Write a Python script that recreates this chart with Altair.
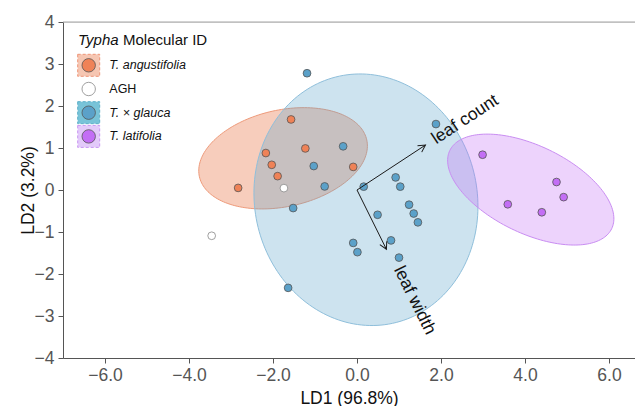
import altair as alt
import pandas as pd
import numpy as np

FONT = "Liberation Sans"

# ---------------- data ----------------
groups = ["T. angustifolia", "AGH", "T. × glauca", "T. latifolia"]
point_fill = ["#EF8257", "#FFFFFF", "#5BA1C9", "#C36EF5"]
point_stroke = ["#555555", "#888888", "#555555", "#555555"]

ang_x = [-2.83, -1.57, -2.17, -2.03, -1.89, -1.23, -0.09]
ang_y = [0.05, 1.68, 0.88, 0.60, 0.33, 0.99, 0.55]

agh_x = [-1.74, -3.46]
agh_y = [0.045, -1.09]

gla_x = [-1.19, -0.33, -1.03, -0.77, -1.52, 0.16, 0.92, 1.03, 0.49,
         1.24, 1.35, 1.45, 0.81, -0.09, 0.01, 1.00, -1.64, 1.88]
gla_y = [2.78, 1.04, 0.57, 0.085, -0.43, 0.08, 0.30, 0.08, -0.59,
         -0.35, -0.56, -0.77, -1.20, -1.26, -1.48, -1.61, -2.33, 1.57]

lat_x = [2.99, 4.75, 4.92, 3.59, 4.40]
lat_y = [0.84, 0.19, -0.17, -0.34, -0.53]

# ellipse parameters (centre, semi-axes, rotation in degrees)
ell_groups = ["T. angustifolia", "T. × glauca", "T. latifolia"]
ell_cx = [-1.76, 0.213, 4.137]
ell_cy = [0.755, -0.232, 0.01]
ell_a = [2.04, 3.01, 2.14]
ell_b = [1.15, 2.65, 1.04]
ell_rot = [12.4, 102.1, -25.8]
ell_fill = ["#E8703F", "#5BA1C9", "#C36EF5"]
ell_fill_opacity = [0.35, 0.3, 0.3]
ell_stroke = ["#EE9A7A", "#8FBFDB", "#C98DF2"]

# biplot arrows
arrow_names = ["leaf count", "leaf width"]
arrow_x = [1.63, 0.70]
arrow_y = [1.07, -1.41]
arrow_label_x = [1.82, 0.98]
arrow_label_y = [1.18, -1.84]

# legend
legend_patch_fill = ["#F6C6B2", None, "#78C3D8", "#E3CAFA"]
legend_patch_stroke = ["#EE9477", None, "#5AAFC8", "#C896F2"]

x_ticks = [-6, -4, -2, 0, 2, 4, 6]
y_ticks = [-4, -3, -2, -1, 0, 1, 2, 3, 4]

# ---------------- chart ----------------
W, H = 572, 336
PX_PER_UNIT = H / 8.0
xs = alt.Scale(domain=[-7, -7 + W / PX_PER_UNIT], nice=False, zero=False)
ys = alt.Scale(domain=[-4, 4], nice=False, zero=False)

xaxis = alt.Axis(values=x_ticks, format=".1f", grid=False, labelFontSize=17.5,
                 labelColor="#555555", tickColor="#555555", domainColor="#555555",
                 tickSize=5, labelPadding=3, titleFontSize=17.5, titleFontWeight="normal",
                 titleColor="#111111", titleY=40, titleBaseline="middle",
                 labelFont=FONT, titleFont=FONT)
yaxis = alt.Axis(values=y_ticks, format="d", grid=False, labelFontSize=17.5,
                 labelColor="#555555", tickColor="#555555", domainColor="#555555",
                 tickSize=5, labelPadding=4, titleFontSize=17.5, titleFontWeight="normal",
                 titleColor="#111111", titleX=-35, titleY=H / 2, titleAngle=270,
                 titleBaseline="middle", titleAlign="center",
                 labelFont=FONT, titleFont=FONT)

XT = "LD1 (96.8%)"
YT = "LD2 (3.2%)"


def X(f):
    return alt.X(f, type="quantitative", scale=xs, axis=xaxis, title=XT)


def Y(f):
    return alt.Y(f, type="quantitative", scale=ys, axis=yaxis, title=YT)


layers = []

# ellipses
t = np.linspace(0, 2 * np.pi, 181)
for g, cx, cy, a, b, r, fc, fo, sc in zip(ell_groups, ell_cx, ell_cy, ell_a, ell_b,
                                          ell_rot, ell_fill, ell_fill_opacity, ell_stroke):
    th = np.deg2rad(r)
    ex = cx + a * np.cos(t) * np.cos(th) - b * np.sin(t) * np.sin(th)
    ey = cy + a * np.cos(t) * np.sin(th) + b * np.sin(t) * np.cos(th)
    edf = pd.DataFrame({"x": ex, "y": ey, "i": np.arange(len(t))})
    layers.append(
        alt.Chart(edf).mark_line(fill=fc, fillOpacity=fo, stroke=sc, strokeOpacity=1,
                                 strokeWidth=1).encode(
            x=X("x"), y=Y("y"), order=alt.Order("i:Q"))
    )

# points
pts = pd.concat([
    pd.DataFrame({"x": ang_x, "y": ang_y, "g": groups[0]}),
    pd.DataFrame({"x": agh_x, "y": agh_y, "g": groups[1]}),
    pd.DataFrame({"x": gla_x, "y": gla_y, "g": groups[2]}),
    pd.DataFrame({"x": lat_x, "y": lat_y, "g": groups[3]}),
], ignore_index=True)

layers.append(
    alt.Chart(pts).mark_point(filled=True, size=60, strokeWidth=0.8, opacity=1).encode(
        x=X("x"), y=Y("y"),
        fill=alt.Fill("g:N", scale=alt.Scale(domain=groups, range=point_fill), legend=None),
        stroke=alt.Stroke("g:N", scale=alt.Scale(domain=groups, range=point_stroke), legend=None),
    )
)

# arrows
adf = pd.DataFrame({"name": arrow_names, "x0": [0.0, 0.0], "y0": [0.0, 0.0],
                    "x1": arrow_x, "y1": arrow_y,
                    "lx": arrow_label_x, "ly": arrow_label_y})
adf["ang"] = (-np.degrees(np.arctan2(adf["y1"], adf["x1"]))) % 360

layers.append(
    alt.Chart(adf).mark_rule(color="#1a1a1a", strokeWidth=1).encode(
        x=X("x0"), y=Y("y0"), x2="x1:Q", y2="y1:Q")
)
layers.append(
    alt.Chart(adf).mark_point(shape="M -1 -0.55 L 0 0 L -1 0.55", filled=False, size=196,
                              color="#1a1a1a", strokeWidth=1, opacity=1).encode(
        x=X("x1"), y=Y("y1"), angle=alt.Angle("ang:Q", scale=None))
)
layers.append(
    alt.Chart(adf).mark_text(font=FONT, fontSize=17.5, color="#111111", align="left",
                             baseline="middle").encode(
        x=X("lx"), y=Y("ly"), text="name:N", angle=alt.Angle("ang:Q", scale=None))
)

# top frame line
layers.append(
    alt.Chart(pd.DataFrame({"y": [4]})).mark_rule(color="#a6a6a6", strokeWidth=1.2).encode(
        y=Y("y"))
)

# manual legend (pixel layout)
LX0, LY0, ROW = 25.7, 43.3, 23.7
layers.append(
    alt.Chart(pd.DataFrame({"t": ["Typha"]})).mark_text(
        font=FONT, fontSize=15, fontStyle="italic", align="left", baseline="alphabetic",
        color="#111111").encode(text="t:N", x=alt.value(15), y=alt.value(22.7))
)
layers.append(
    alt.Chart(pd.DataFrame({"t": ["Molecular ID"]})).mark_text(
        font=FONT, fontSize=15, align="left", baseline="alphabetic",
        color="#111111").encode(text="t:N", x=alt.value(60), y=alt.value(22.7))
)
for k, g in enumerate(groups):
    yy = LY0 + k * ROW
    d = pd.DataFrame({"t": [g]})
    if legend_patch_fill[k] is not None:
        layers.append(
            alt.Chart(d).mark_square(size=22 * 22, fill=legend_patch_fill[k],
                                     stroke=legend_patch_stroke[k], strokeWidth=1,
                                     strokeDash=[3, 2], opacity=1).encode(
                x=alt.value(LX0), y=alt.value(yy))
        )
    layers.append(
        alt.Chart(d).mark_circle(size=180, fill=point_fill[k], stroke=point_stroke[k],
                                 strokeWidth=0.8, opacity=1).encode(
            x=alt.value(LX0), y=alt.value(yy))
    )
    layers.append(
        alt.Chart(d).mark_text(font=FONT, fontSize=12.5,
                               fontStyle="normal" if g == "AGH" else "italic",
                               align="left", baseline="middle", color="#111111").encode(
            text="t:N", x=alt.value(46.3), y=alt.value(yy))
    )

chart = alt.layer(*layers).properties(
    width=W, height=H,
    padding={"left": 55, "top": 14, "right": 0, "bottom": 48},
    autosize=alt.AutoSizeParams(type="none"),
).configure_view(stroke=None).configure(font=FONT)

chart.save("out.html", embed_options={"renderer": "svg", "actions": False})
